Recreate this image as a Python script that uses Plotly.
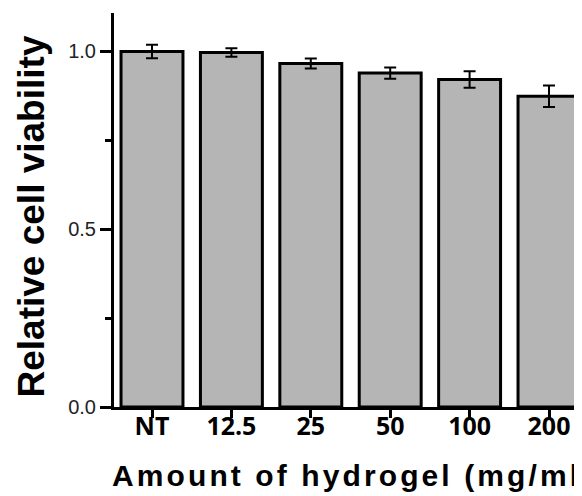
import plotly.graph_objects as go

categories = ["NT", "12.5", "25", "50", "100", "200"]
viability = [1.000, 0.997, 0.966, 0.939, 0.921, 0.874]
errors = [0.019, 0.012, 0.014, 0.016, 0.023, 0.030]

# page body has an 8px margin, so figure coords = screen coords - 8
OFF = 8
W, H = 582, 496
L, R, T, B = 114 - OFF, 0, 13 - OFF, 496 - (407 - OFF)
pw = W - L - R
ph = H - T - B

def px(sx):
    return (sx - OFF - L) / pw

def py(sy):
    return (H - B - (sy - OFF)) / ph

fig = go.Figure()
fig.add_trace(go.Bar(
    x=categories, y=viability, width=0.78,
    marker=dict(color="#b5b5b5", line=dict(color="black", width=3)),
    error_y=dict(type="data", array=errors, color="black", thickness=2, width=6),
    showlegend=False,
))

x_lo = (114 - 152) / 79.4
x_hi = (590 - 152) / 79.4

fig.update_layout(
    width=W, height=H,
    margin=dict(l=L, r=R, t=T, b=B),
    paper_bgcolor="white", plot_bgcolor="white",
    xaxis=dict(
        type="category", range=[x_lo, x_hi],
        showline=True, linecolor="black", linewidth=3,
        ticks="outside", ticklen=8, tickwidth=2.5, tickcolor="black",
        showgrid=False, zeroline=False, ticklabelstandoff=-13,
        tickfont=dict(family="Open Sans", size=25, color="black", weight="bold"),
    ),
    yaxis=dict(
        range=[0, 1.108], tick0=0, dtick=0.5, tickformat=".1f",
        showline=True, linecolor="black", linewidth=3,
        ticks="outside", ticklen=11, tickwidth=2.5, tickcolor="black",
        minor=dict(dtick=0.25, tick0=0, ticks="outside", ticklen=6, tickwidth=2.5, tickcolor="black", showgrid=False),
        showgrid=False, zeroline=False,
        tickfont=dict(family="Liberation Sans, Arial", size=20, color="#222"),
    ),
    annotations=[
        dict(
            text="Relative cell viability", textangle=-90,
            xref="paper", yref="paper",
            x=px(31), y=py(216.5),
            xanchor="center", yanchor="middle", showarrow=False,
            font=dict(family="Liberation Sans, Arial", size=37, color="black", weight="bold"),
        ),
        dict(
            text="<span style='letter-spacing:3.1px'>Amount of hydrogel (mg/ml)</span>",
            xref="paper", yref="paper",
            x=px(110), y=py(476),
            xanchor="left", yanchor="middle", showarrow=False,
            font=dict(family="Liberation Sans, Arial", size=30, color="black", weight="bold"),
        ),
    ],
)

fig.write_html("out.html")
